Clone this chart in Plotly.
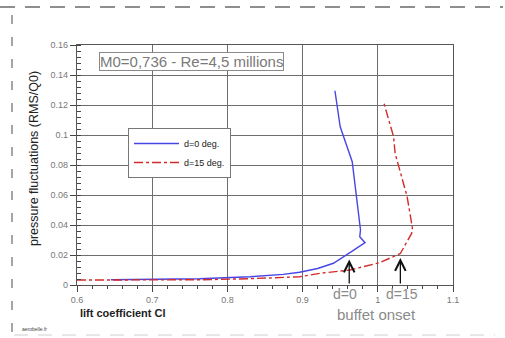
import plotly.graph_objects as go

# Lift coefficient vs. RMS pressure fluctuations, two flap deflections
cl_d0 = [0.645, 0.70, 0.763, 0.83, 0.874, 0.896, 0.92, 0.941, 0.954, 0.967,
         0.983, 0.976, 0.977, 0.966, 0.950, 0.943]
rms_d0 = [0.0035, 0.0037, 0.0042, 0.0055, 0.0071, 0.0085, 0.0110, 0.0145, 0.0185,
          0.0229, 0.0282, 0.0322, 0.0367, 0.0822, 0.1055, 0.1295]

cl_d15 = [0.60, 0.70, 0.763, 0.83, 0.896, 0.923, 0.963, 1.003, 1.030, 1.045,
          1.046, 1.039, 1.023, 1.021, 1.008]
rms_d15 = [0.0033, 0.0033, 0.0035, 0.0042, 0.0055, 0.0078, 0.0100, 0.0150, 0.0210,
           0.0344, 0.0380, 0.0589, 0.0878, 0.0989, 0.1215]

# Buffet onset markers
onset_labels = ["d=0", "d=15"]
onset_cl = [0.962, 1.030]
onset_rms = [0.017, 0.018]

x_ticks = [0.6, 0.7, 0.8, 0.9, 1.0, 1.1]
y_ticks = [0, 0.02, 0.04, 0.06, 0.08, 0.1, 0.12, 0.14, 0.16]

FONT = "Liberation Sans, Arial, sans-serif"
L, R, T, B = 77, 52, 45, 53
W, H = 505, 338
PW, PH = W - L - R, H - T - B


def px(x):
    return (x - L) / PW


def py(y):
    return (H - B - y) / PH


def label(x, y, text, size, color, **kw):
    d = dict(x=px(x), y=py(y), xref="paper", yref="paper", text=text,
             showarrow=False, xanchor="center", yanchor="middle",
             font=dict(family=FONT, size=size, color=color))
    d.update(kw)
    return d


fig = go.Figure()
fig.add_trace(go.Scatter(x=cl_d0, y=rms_d0, mode="lines", name="d=0 deg.",
                         line=dict(color="#4646e6", width=1.4)))
fig.add_trace(go.Scatter(x=cl_d15, y=rms_d15, mode="lines", name="d=15 deg.",
                         line=dict(color="#d42a2a", width=1.4, dash="dashdot")))

annotations = []
for xc, yc in zip(onset_cl, onset_rms):
    annotations.append(dict(x=xc, y=yc, ax=xc, ay=0, xref="x", yref="y",
                            axref="x", ayref="y", showarrow=True, arrowhead=5,
                            arrowsize=1.6, arrowwidth=1.3, arrowcolor="#111",
                            text=""))
annotations += [
    label(345, 294, onset_labels[0], 14, "#8a8a8a"),
    label(402, 294, onset_labels[1], 14, "#8a8a8a"),
    label(376, 314, "buffet onset", 15, "#8a8a8a"),
    label(191, 62, "M0=0,736 - Re=4,5 millions", 15, "#7a7a7a",
          bgcolor="white", bordercolor="#8a8a8a", borderwidth=1, borderpad=0),
    label(78, 313, "<b>lift coefficient Cl</b>", 11, "#222", xanchor="left"),
    label(34, 159, "pressure fluctuations (RMS/Q0)", 12.5, "#222", textangle=-90),
    label(20, 329, "aerobelle.fr", 5, "#444", xanchor="left"),
]

dash_col = "#6a6a6a"
shapes = [
    dict(type="line", xref="paper", yref="paper", x0=px(0), x1=px(503),
         y0=py(7), y1=py(7), line=dict(color=dash_col, width=1.6, dash="15px,10px")),
    dict(type="line", xref="paper", yref="paper", x0=px(12), x1=px(12),
         y0=py(15), y1=py(337), line=dict(color=dash_col, width=1.2, dash="9px,13px")),
    dict(type="line", xref="paper", yref="paper", x0=px(14), x1=px(495),
         y0=py(335), y1=py(335), line=dict(color="#d0d0d0", width=1.2, dash="14px,10px")),
]

axis_common = dict(showgrid=True, gridcolor="#6e6e6e", gridwidth=1,
                   showline=True, linecolor="#555", linewidth=1.2, mirror=True,
                   zeroline=False, ticks="outside", tickcolor="#444",
                   tickfont=dict(family=FONT, size=9, color="#777"))

fig.update_layout(
    width=W, height=H,
    margin=dict(l=L, r=R, t=T, b=B),
    paper_bgcolor="white", plot_bgcolor="white",
    xaxis=dict(range=[0.6, 1.1], tickvals=x_ticks, ticklen=6,
               minor=dict(dtick=0.02, ticks="outside", ticklen=3, tickcolor="#444",
                          showgrid=False),
               **axis_common),
    yaxis=dict(range=[0, 0.16], tickvals=y_ticks, ticklen=6,
               minor=dict(dtick=0.004, ticks="inside", ticklen=4, tickcolor="#444",
                          showgrid=False),
               **axis_common),
    showlegend=True,
    legend=dict(x=px(128), y=py(128), xanchor="left", yanchor="top",
                bgcolor="white", bordercolor="#777", borderwidth=1,
                font=dict(family=FONT, size=9, color="#222"),
                itemwidth=45, tracegroupgap=0),
    annotations=annotations,
    shapes=shapes,
)

fig.write_html("out.html")
